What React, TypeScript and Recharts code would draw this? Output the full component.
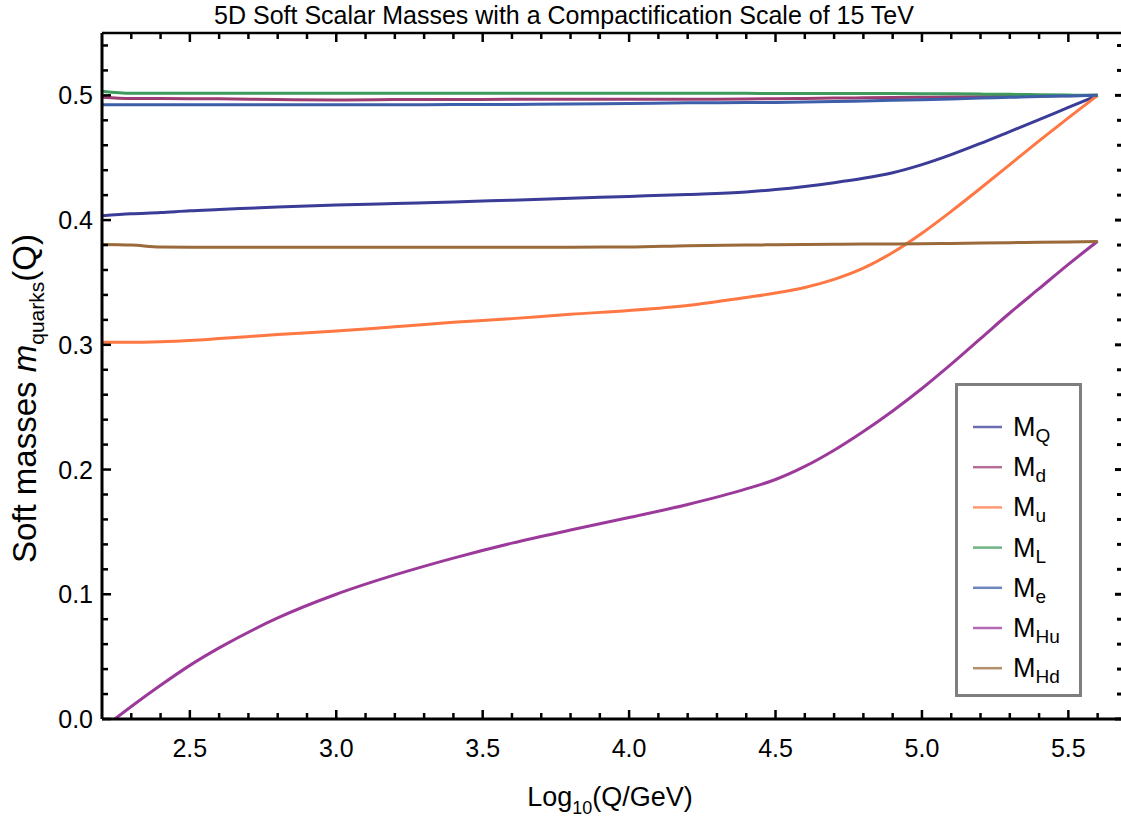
import React from 'react';
import { LineChart, Line, XAxis, YAxis, Legend } from 'recharts';

// Log10(Q/GeV) sample points
const logQ = [2.2, 2.3, 2.4, 2.5, 2.6, 2.8, 3.0, 3.2, 3.4, 3.6, 3.8, 4.0, 4.2, 4.4, 4.5, 4.6, 4.7, 4.8, 4.9, 5.0, 5.1, 5.2, 5.3, 5.4, 5.5, 5.6];

const mQ = [0.4035, 0.405, 0.406, 0.4075, 0.4085, 0.4105, 0.412, 0.4133, 0.4145, 0.416, 0.4175, 0.419, 0.4205, 0.4225, 0.4245, 0.427, 0.43, 0.4335, 0.438, 0.4445, 0.4525, 0.4615, 0.471, 0.4805, 0.4903, 0.5];
const mD = [0.4985, 0.4975, 0.4974, 0.4973, 0.4972, 0.4966, 0.4963, 0.4966, 0.4967, 0.4968, 0.4968, 0.4968, 0.4969, 0.4971, 0.4973, 0.4975, 0.4978, 0.498, 0.4982, 0.4984, 0.4986, 0.4989, 0.4992, 0.4995, 0.4997, 0.5];
const mU = [0.302, 0.302, 0.3025, 0.3035, 0.305, 0.3082, 0.311, 0.3145, 0.318, 0.321, 0.3245, 0.3275, 0.3315, 0.338, 0.3415, 0.346, 0.3525, 0.3615, 0.374, 0.3895, 0.407, 0.4255, 0.4445, 0.4635, 0.482, 0.5];
const mL = [0.5033, 0.5016, 0.5016, 0.5016, 0.5016, 0.5016, 0.5016, 0.5016, 0.5016, 0.5016, 0.5016, 0.5016, 0.5016, 0.5016, 0.5015, 0.5015, 0.5015, 0.5014, 0.5014, 0.5013, 0.5012, 0.501, 0.5008, 0.5005, 0.5002, 0.5];
const mE = [0.4925, 0.4925, 0.4925, 0.4925, 0.4925, 0.4925, 0.4925, 0.4925, 0.4926, 0.4927, 0.493, 0.4935, 0.494, 0.4942, 0.4943, 0.4946, 0.495, 0.4955, 0.496, 0.4965, 0.497, 0.4978, 0.4984, 0.499, 0.4995, 0.5];
const mHu = [-0.008, 0.01, 0.027, 0.043, 0.057, 0.081, 0.1, 0.1155, 0.129, 0.141, 0.1515, 0.1615, 0.172, 0.1845, 0.192, 0.2025, 0.2155, 0.2305, 0.247, 0.265, 0.2845, 0.305, 0.3255, 0.345, 0.3645, 0.383];
const mHd = [0.3805, 0.38, 0.3785, 0.3783, 0.3783, 0.3783, 0.3783, 0.3783, 0.3783, 0.3783, 0.3783, 0.3784, 0.3795, 0.38, 0.3802, 0.3804, 0.3806, 0.3808, 0.3809, 0.381, 0.3813, 0.3816, 0.3819, 0.3822, 0.3825, 0.3828];

const seriesKeys = ['mQ', 'mD', 'mU', 'mL', 'mE', 'mHu', 'mHd'];
const seriesSubs = ['Q', 'd', 'u', 'L', 'e', 'Hu', 'Hd'];
const seriesColors = ['#3b3b98', '#9c3d72', '#ff7742', '#3e9b5c', '#3d5ea8', '#9b3a9b', '#9a6a3a'];
const seriesValues = [mQ, mD, mU, mL, mE, mHu, mHd];

const xMajor = [2.5, 3.0, 3.5, 4.0, 4.5, 5.0, 5.5];
const yMajor = [0, 0.1, 0.2, 0.3, 0.4, 0.5];

// minor ticks every 0.1 on x and 0.02 on y
const xTicks = Array.from({ length: 34 }, (_, i) => Math.round((2.3 + i * 0.1) * 10) / 10);
const yTicks = Array.from({ length: 28 }, (_, i) => Math.round(i * 2) / 100);

const chartData = logQ.map((q, i) => {
  const row: Record<string, number> = { logQ: q };
  seriesKeys.forEach((k, j) => { row[k] = seriesValues[j][i]; });
  return row;
});

// frame layout
const W = 1125;
const H = 820;
const TOP = 33;
const LEFT = 102;
const BOTTOM = 719;
const RIGHT = W - 1;

const FONT = '"Liberation Sans", Arial, sans-serif';
const isMajorX = (v: number) => xMajor.some(m => Math.abs(m - v) < 1e-6);
const isMajorY = (v: number) => yMajor.some(m => Math.abs(m - v) < 1e-6);

const BottomTick = ({ x, payload }: any) => {
  const major = isMajorX(payload.value);
  return (
    <g>
      <line x1={x} x2={x} y1={BOTTOM} y2={BOTTOM - (major ? 9 : 6)} stroke="#000" strokeWidth={2.5} />
      {major && (
        <text x={x} y={BOTTOM + 38} textAnchor="middle" fontSize={25} fontFamily={FONT} fill="#000">
          {payload.value.toFixed(1)}
        </text>
      )}
    </g>
  );
};

const TopTick = ({ x, payload }: any) => {
  const major = isMajorX(payload.value);
  return <line x1={x} x2={x} y1={TOP} y2={TOP + (major ? 9 : 6)} stroke="#000" strokeWidth={2.5} />;
};

const LeftTick = ({ y, payload }: any) => {
  const major = isMajorY(payload.value);
  return (
    <g>
      <line x1={LEFT} x2={LEFT + (major ? 9 : 6)} y1={y} y2={y} stroke="#000" strokeWidth={2.5} />
      {major && (
        <text x={LEFT - 9} y={y + 9} textAnchor="end" fontSize={25} fontFamily={FONT} fill="#000">
          {payload.value.toFixed(1)}
        </text>
      )}
    </g>
  );
};

const RightTick = ({ y, payload }: any) => {
  const major = isMajorY(payload.value);
  return <line x1={RIGHT} x2={RIGHT - (major ? 9 : 7)} y1={y} y2={y} stroke="#000" strokeWidth={3} />;
};

const XLabel = () => (
  <text x={610} y={BOTTOM + 87} textAnchor="middle" fontSize={27} fontFamily={FONT} fill="#000">
    Log<tspan fontSize={18} dy={8}>10</tspan><tspan dy={-8}>(Q/GeV)</tspan>
  </text>
);

const YLabel = () => {
  const cx = 36;
  const cy = 563;
  return (
    <text x={cx} y={cy} transform={`rotate(-90 ${cx} ${cy})`} textAnchor="start" fontSize={33} fontFamily={FONT} fill="#000">
      Soft masses <tspan fontStyle="italic">m</tspan>
      <tspan fontSize={21} dy={8}>quarks</tspan>
      <tspan dy={-8}>(Q)</tspan>
    </text>
  );
};

const renderLegend = () => (
  <div style={{
    width: 127, height: 314, boxSizing: 'border-box', border: '3px solid #7f7f7f', background: '#fff',
  }}>
    <svg width={121} height={308}>
      {seriesSubs.map((s, i) => {
        const cy = 41 + i * 40.2;
        return (
          <g key={s}>
            <line x1={15} x2={44} y1={cy} y2={cy} stroke={seriesColors[i]} strokeWidth={2.5} opacity={0.75} />
            <text x={55} y={cy + 9} fontSize={27} fontFamily={FONT} fill="#000">
              M<tspan fontSize={19} dy={6}>{s}</tspan>
            </text>
          </g>
        );
      })}
    </svg>
  </div>
);

export default function App() {
  return (
    <div style={{ position: 'absolute', left: 0, top: 0, width: 1121, height: 820, overflow: 'hidden', background: '#fff' }}>
      <div style={{
        position: 'absolute', left: 0, top: 1, width: 1128, textAlign: 'center',
        fontFamily: FONT, fontSize: 25, color: '#000', zIndex: 2,
      }}>
        5D Soft Scalar Masses with a Compactification Scale of 15 TeV
      </div>
      <LineChart width={W} height={H} data={chartData} margin={{ top: TOP - 1, right: 0, bottom: 0, left: 0 }}>
        <XAxis
          xAxisId="b" dataKey="logQ" type="number" domain={[2.2, 5.69]} allowDataOverflow
          ticks={xTicks} interval={0} height={H - BOTTOM} tickSize={0} tickMargin={0}
          tickLine={false} axisLine={{ stroke: '#000', strokeWidth: 3 }}
          tick={(p: any) => <BottomTick {...p} />} label={<XLabel />}
        />
        <XAxis
          xAxisId="t" orientation="top" dataKey="logQ" type="number" domain={[2.2, 5.69]} allowDataOverflow
          ticks={xTicks} interval={0} height={1} tickSize={0} tickMargin={0}
          tickLine={false} axisLine={{ stroke: '#000', strokeWidth: 2.5 }}
          tick={(p: any) => <TopTick {...p} />}
        />
        <YAxis
          yAxisId="l" type="number" domain={[0, 0.55]} allowDataOverflow
          ticks={yTicks} interval={0} width={LEFT} tickSize={0} tickMargin={0}
          tickLine={false} axisLine={{ stroke: '#000', strokeWidth: 3 }}
          tick={(p: any) => <LeftTick {...p} />} label={<YLabel />}
        />
        <YAxis
          yAxisId="r" orientation="right" type="number" domain={[0, 0.55]} allowDataOverflow
          ticks={yTicks} interval={0} width={1} tickSize={0} tickMargin={0}
          tickLine={false} axisLine={false}
          tick={(p: any) => <RightTick {...p} />}
        />
        {seriesKeys.map((k, i) => (
          <Line
            key={k} xAxisId="b" yAxisId="l" type="monotone" dataKey={k} name={`M${seriesSubs[i]}`}
            stroke={seriesColors[i]} strokeWidth={3} dot={false} activeDot={false} isAnimationActive={false}
          />
        ))}
        <Legend
          layout="vertical" align="center" verticalAlign="middle" content={renderLegend}
          wrapperStyle={{ position: 'absolute', left: 955, top: 383, width: 127, height: 314 }}
        />
      </LineChart>
    </div>
  );
}
